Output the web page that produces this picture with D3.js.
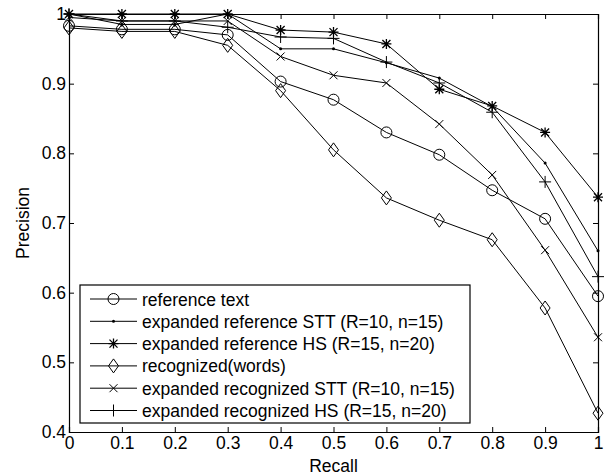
<!DOCTYPE html>
<html>
<head>
<meta charset="utf-8">
<script src="https://cdn.jsdelivr.net/npm/d3@7"></script>
<style>
  body { margin: 0; background: #fff; }
  svg { font-family: "Liberation Sans", Arial, sans-serif; }
</style>
</head>
<body>
<svg id="chart" width="605" height="475"></svg>
<script>
const recall = [0, 0.1, 0.2, 0.3, 0.4, 0.5, 0.6, 0.7, 0.8, 0.9, 1];
const xTicks = [0, 0.1, 0.2, 0.3, 0.4, 0.5, 0.6, 0.7, 0.8, 0.9, 1];
const yTicks = [0.4, 0.5, 0.6, 0.7, 0.8, 0.9, 1];

const referenceText = [0.983, 0.978, 0.978, 0.97, 0.903, 0.877, 0.83, 0.798, 0.747, 0.706, 0.595];
const expRefSTT = [1.0, 0.985, 0.985, 1.0, 0.95, 0.95, 0.93, 0.908, 0.867, 0.786, 0.66];
const expRefHS = [1.0, 1.0, 1.0, 1.0, 0.977, 0.974, 0.957, 0.892, 0.868, 0.83, 0.737];
const recognizedWords = [0.98, 0.975, 0.975, 0.955, 0.89, 0.805, 0.736, 0.704, 0.676, 0.578, 0.427];
const expRecSTT = [0.995, 0.99, 0.99, 0.99, 0.939, 0.912, 0.901, 0.842, 0.769, 0.661, 0.536];
const expRecHS = [1.0, 0.99, 0.99, 0.981, 0.967, 0.965, 0.931, 0.901, 0.859, 0.759, 0.623];

const seriesNames = [
  'reference text',
  'expanded reference STT (R=10, n=15)',
  'expanded reference HS (R=15, n=20)',
  'recognized(words)',
  'expanded recognized STT (R=10, n=15)',
  'expanded recognized HS (R=15, n=20)'
];
const seriesMarkers = ['circle', 'dot', 'star', 'diamond', 'x', 'plus'];
const seriesValues = [referenceText, expRefSTT, expRefHS, recognizedWords, expRecSTT, expRecHS];

const margin = { top: 14, right: 7, bottom: 43, left: 69 };
const width = 605 - margin.left - margin.right;
const height = 475 - margin.top - margin.bottom;
const fontSize = 17.5;

const svg = d3.select('#chart');
const g = svg.append('g').attr('transform', 'translate(' + margin.left + ',' + margin.top + ')');

const x = d3.scaleLinear().domain([0, 1]).range([0, width]);
const y = d3.scaleLinear().domain([0.4, 1]).range([height, 0]);

// axes box with inward ticks on all four sides
const fmt = (d) => (d === 0 || d === 1 ? String(d) : d3.format('.1f')(d));
g.append('g')
  .attr('transform', 'translate(0,' + height + ')')
  .call(d3.axisBottom(x).tickValues(xTicks).tickSize(-5).tickPadding(5).tickFormat(fmt));
g.append('g')
  .call(d3.axisTop(x).tickValues(xTicks).tickSize(-5).tickFormat(''));
g.append('g')
  .call(d3.axisLeft(y).tickValues(yTicks).tickSize(-5).tickPadding(3).tickFormat(fmt));
g.append('g')
  .attr('transform', 'translate(' + width + ',0)')
  .call(d3.axisRight(y).tickValues(yTicks).tickSize(-5).tickFormat(''));
g.selectAll('.domain').attr('stroke', '#000').attr('stroke-width', 1.2);
g.selectAll('.tick line').attr('stroke', '#000');
g.selectAll('.tick text').attr('font-size', fontSize).attr('fill', '#000')
  .attr('font-family', '"Liberation Sans", Arial, sans-serif');

svg.append('text')
  .attr('x', margin.left + width / 2)
  .attr('y', 472)
  .attr('text-anchor', 'middle')
  .attr('font-size', fontSize)
  .text('Recall');
svg.append('text')
  .attr('transform', 'translate(29,' + (margin.top + height / 2) + ') rotate(-90)')
  .attr('text-anchor', 'middle')
  .attr('font-size', fontSize)
  .text('Precision');

function drawMarker(sel, type) {
  const s = 5;
  if (type === 'circle') {
    sel.append('circle').attr('r', 5.5).attr('fill', 'none').attr('stroke', '#000');
  } else if (type === 'dot') {
    sel.append('circle').attr('r', 1.5).attr('fill', '#000');
  } else if (type === 'diamond') {
    sel.append('path').attr('d', 'M0,-7L5,0L0,7L-5,0Z').attr('fill', 'none').attr('stroke', '#000');
  } else if (type === 'x') {
    sel.append('path').attr('d', 'M-4,-4L4,4M-4,4L4,-4').attr('stroke', '#000');
  } else if (type === 'plus') {
    sel.append('path').attr('d', 'M-6,0L6,0M0,-6L0,6').attr('stroke', '#000');
  } else if (type === 'star') {
    sel.append('path')
      .attr('d', 'M-' + s + ',0L' + s + ',0M0,-' + s + 'L0,' + s +
        'M-4,-4L4,4M-4,4L4,-4')
      .attr('stroke', '#000').attr('stroke-width', 1.3);
  }
}

const line = d3.line().x((d, i) => x(recall[i])).y((d) => y(d));

seriesValues.forEach((vals, k) => {
  g.append('path')
    .datum(vals)
    .attr('d', line)
    .attr('fill', 'none')
    .attr('stroke', '#000')
    .attr('stroke-width', 1);
  vals.forEach((v, i) => {
    const m = g.append('g').attr('transform', 'translate(' + x(recall[i]) + ',' + y(v) + ')');
    drawMarker(m, seriesMarkers[k]);
  });
});

// legend
const legend = svg.append('g').attr('transform', 'translate(80,285)');
legend.append('rect')
  .attr('width', 390).attr('height', 138)
  .attr('fill', '#fff').attr('stroke', '#000').attr('stroke-width', 1.2);
seriesNames.forEach((name, k) => {
  const row = legend.append('g').attr('transform', 'translate(0,' + (14 + k * 22.3) + ')');
  row.append('line').attr('x1', 10).attr('x2', 57).attr('stroke', '#000');
  drawMarker(row.append('g').attr('transform', 'translate(33.5,0)'), seriesMarkers[k]);
  row.append('text')
    .attr('x', 62).attr('y', 6.5)
    .attr('font-size', fontSize)
    .text(name);
});
</script>
</body>
</html>
